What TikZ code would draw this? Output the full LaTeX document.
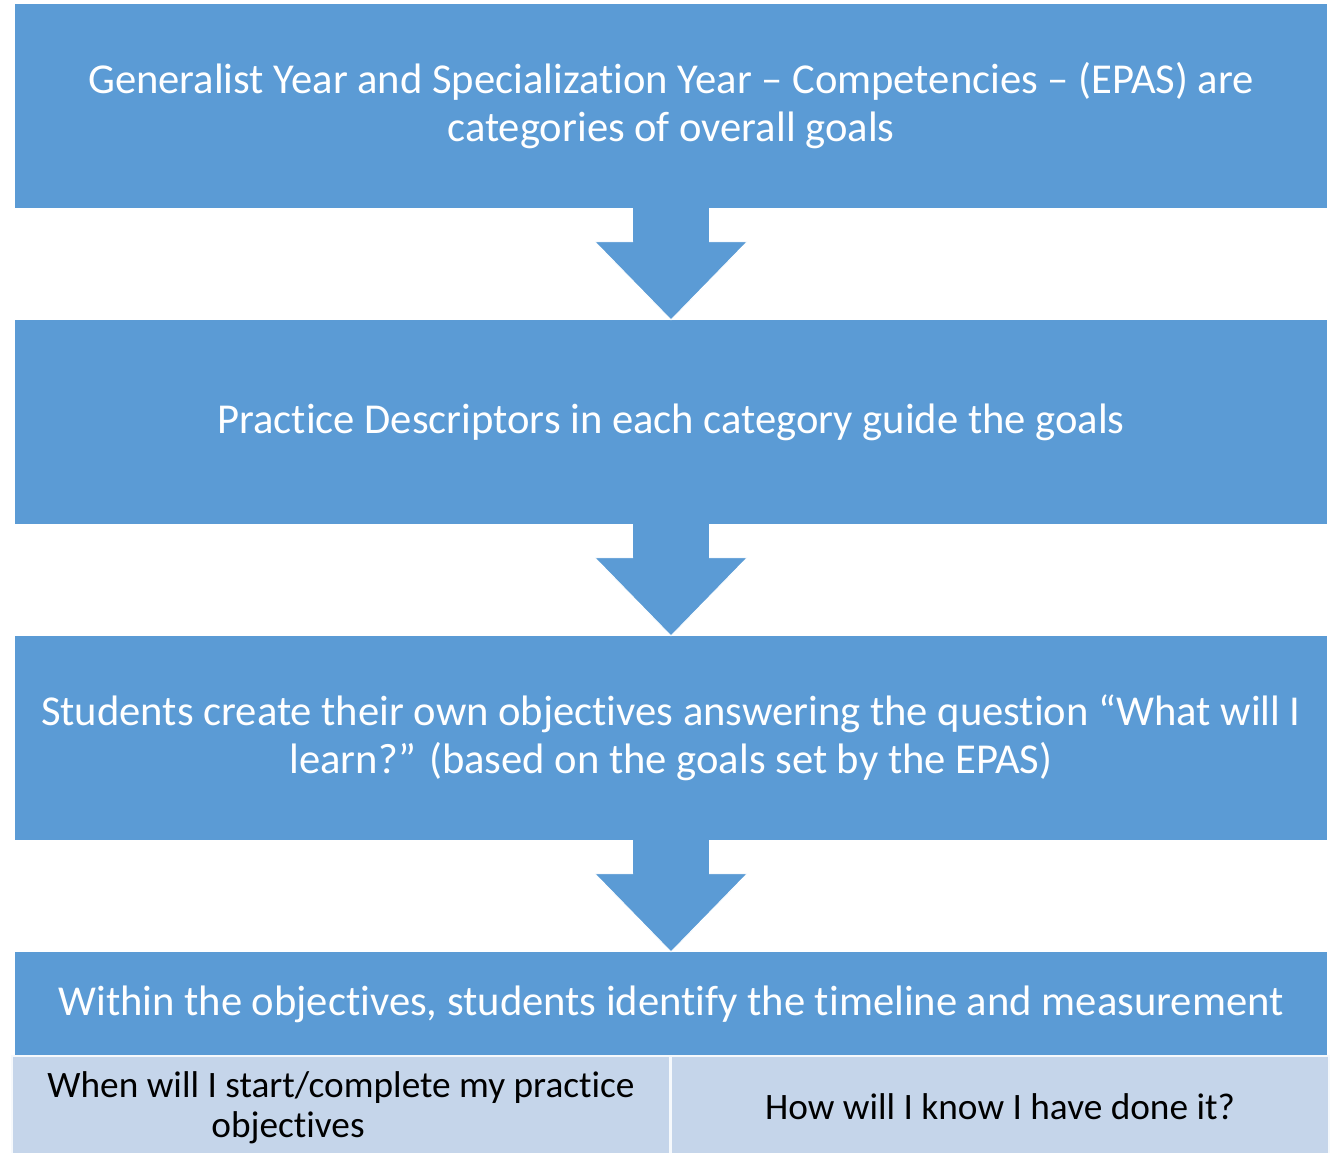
\documentclass[tikz,border=0pt]{standalone}
\usepackage{fontspec}
\setmainfont{Carlito}[Ligatures={TeX,NoCommon}]
\usetikzlibrary{calc}
\definecolor{boxblue}{HTML}{5B9BD5}
\definecolor{cellblue}{HTML}{C5D5EA}
\begin{document}
\begin{tikzpicture}[x=1pt,y=-1pt,
  stage/.style={rectangle, fill=boxblue, minimum width=1312pt, minimum height=204pt,
    text=white, font=\fontsize{42.6}{48}\selectfont, align=center, inner sep=0pt},
  cell/.style={rectangle, fill=cellblue, draw=white!85!cellblue, line width=1.5pt,
    minimum width=658pt, minimum height=98pt},
  celltext/.style={text=black, font=\fontsize{37.3}{40}\selectfont, align=center, inner sep=0pt},
  flow/.style={fill=boxblue, draw=white, line width=0.8pt}]
\useasboundingbox (0,0) rectangle (1333,1152);

% stages
\node[stage] (b1) at (671,106) {Generalist Year and Specialization Year – Competencies – (EPAS) are\\categories of overall goals};
\node[stage] (b2) at (671,422) {Practice Descriptors in each category guide the goals};
\node[stage] (b3) at (671,738) {Students create their own objectives answering the question “What will I\\learn?” (based on the goals set by the EPAS)};
\node[stage, minimum height=104pt] (b4) at (671,1004) {Within the objectives, students identify the timeline and measurement};

% timeline and measurement cells
\node[cell] (c1) at (341,1105) {};
\node[celltext] (c1text) at ($(c1.center)+(0,3)$) {When will I start/complete my practice\\objectives\hspace*{106pt}};
\node[cell] (c2) at (1000,1105) {};
\node[celltext] (c2text) at ($(c2.center)+(0,2)$) {How will I know I have done it?};

% block arrows between stages
\foreach \a/\b in {b1/b2, b2/b3, b3/b4} {
  \path (\a.south) coordinate (s) (\b.north) coordinate (t);
  \fill[boxblue] ($(s)+(-38,-1)$) rectangle ($(t)+(38,-78)$);
  \filldraw[flow] ($(t)+(-38,-78)$) -- ($(t)+(-76,-78)$) -- (t) -- ($(t)+(76,-78)$) -- ($(t)+(38,-78)$);
  \fill[boxblue] ($(t)+(-37,-79)$) rectangle ($(t)+(37,-76)$);
}
\end{tikzpicture}
\end{document}
